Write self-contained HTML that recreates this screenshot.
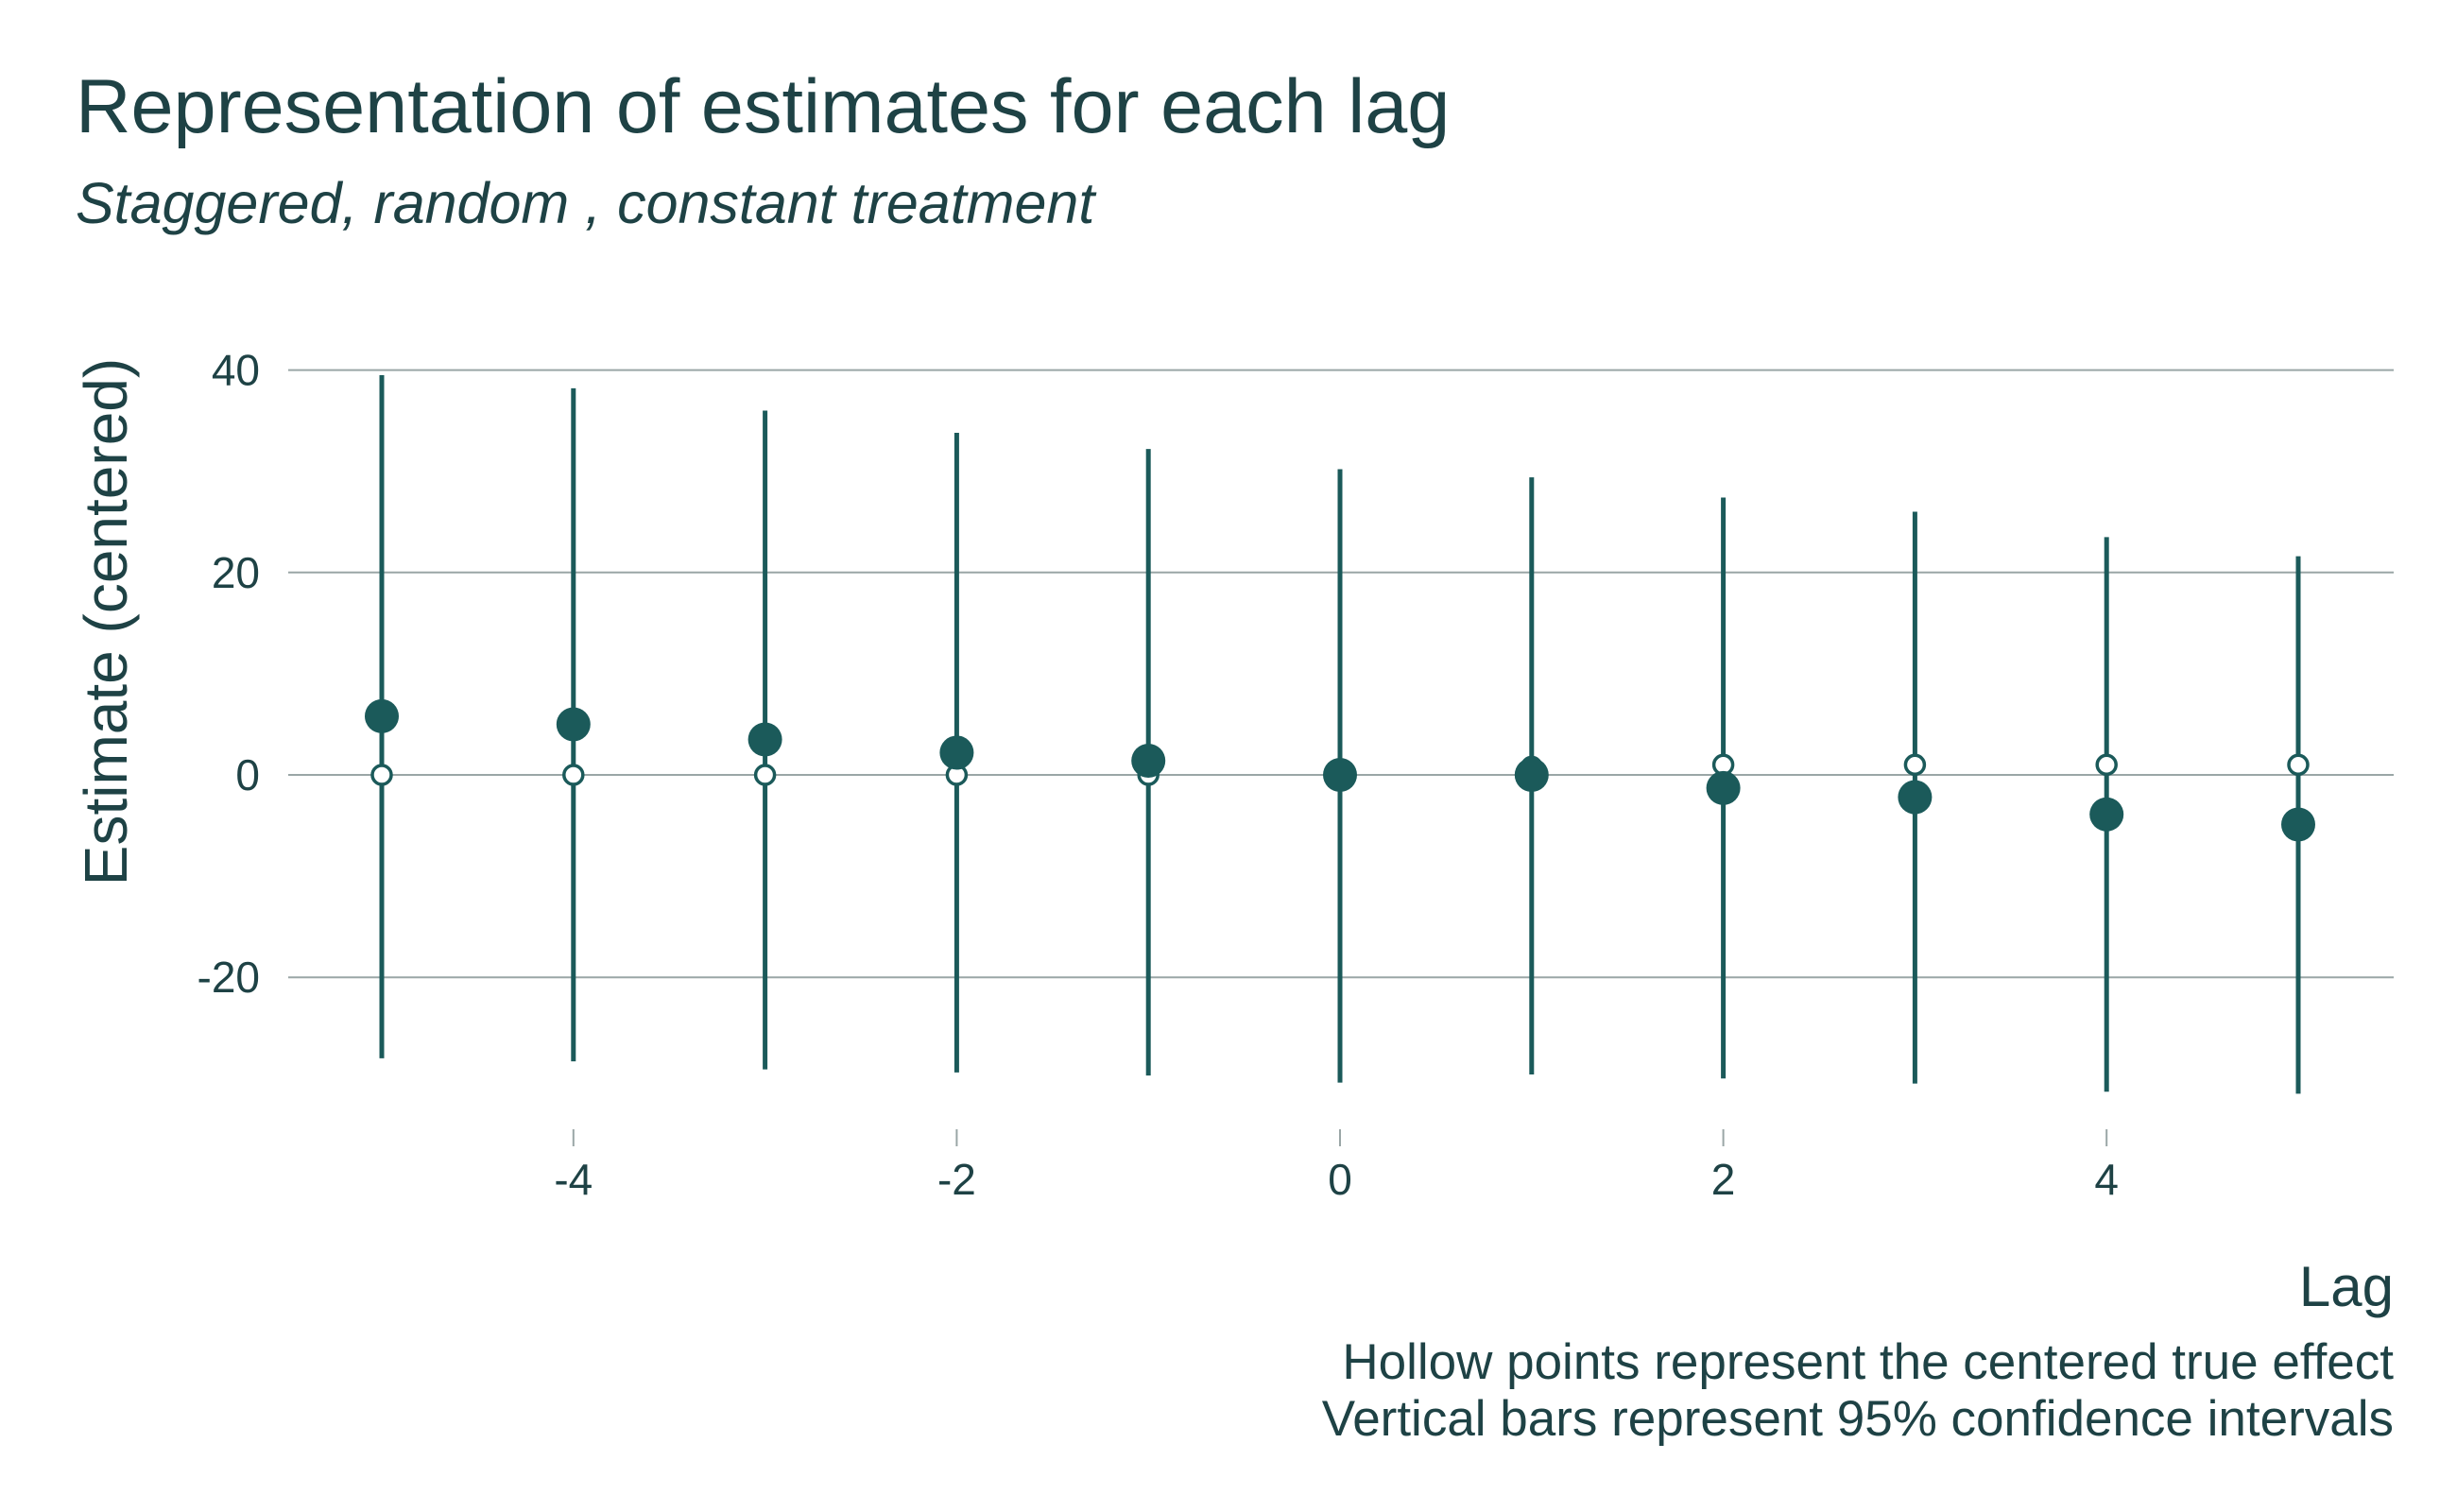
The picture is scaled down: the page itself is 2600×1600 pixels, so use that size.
<!DOCTYPE html>
<html><head><meta charset="utf-8"><style>
html,body{margin:0;padding:0;background:#fff;}
svg{display:block;font-family:"Liberation Sans",sans-serif;}
</style></head><body>
<svg id="chart" width="2600" height="1600" viewBox="0 0 2600 1600">
<text x="80" y="140" font-size="81" fill="#1e4245">Representation of estimates for each lag</text>
<text x="80" y="236" font-size="61" font-style="italic" fill="#1e4245">Staggered, random , constant treatment</text>
<g id="grid"></g>
<g id="marks"></g>
<text transform="translate(134,658) rotate(-90)" text-anchor="middle" font-size="64" fill="#1e4245">Estimate (centered)</text>
<text x="2533" y="1382" text-anchor="end" font-size="60" fill="#1e4245">Lag</text>
<text x="2533" y="1459" text-anchor="end" font-size="53" fill="#1e4245">Hollow points represent the centered true effect</text>
<text x="2533" y="1519" text-anchor="end" font-size="53" fill="#1e4245">Vertical bars represent 95% confidence intervals</text>
</svg>
<script>
const lags=[-5,-4,-3,-2,-1,0,1,2,3,4,5];
const estimates=[5.8,5.0,3.5,2.2,1.4,0,0,-1.3,-2.2,-3.9,-4.9];
const ciUpper=[39.5,38.2,36,33.8,32.2,30.2,29.4,27.4,26,23.5,21.6];
const ciLower=[-28,-28.3,-29.1,-29.4,-29.7,-30.4,-29.6,-30,-30.5,-31.3,-31.5];
const trueEffect=[0,0,0,0,0,0,0.8,1,1,1,1];
const yTicks=[-20,0,20,40];
const xTicks=[-4,-2,0,2,4];
const NS="http://www.w3.org/2000/svg";
const xs=v=>1418+v*202.8;
const ys=v=>820-v*10.71;
const grid=document.getElementById('grid'),marks=document.getElementById('marks');
function mk(tag,attrs,parent){const e=document.createElementNS(NS,tag);for(const k in attrs)e.setAttribute(k,attrs[k]);parent.appendChild(e);return e;}
yTicks.forEach(t=>{
 const l=mk('line',{x1:305,x2:2533,y1:ys(t),y2:ys(t),stroke:'#9aa6a6','stroke-width':2},grid);
 
 
 const tx=mk('text',{x:275,y:ys(t)+16,'text-anchor':'end','font-size':46,fill:'#1e4245'},grid);
 tx.textContent=t;
 
 
});
xTicks.forEach(t=>{
 const l=mk('line',{x1:xs(t),x2:xs(t),y1:1195,y2:1213,stroke:'#9aa6a6','stroke-width':2},grid);
 
 
 const tx=mk('text',{x:xs(t),y:1264,'text-anchor':'middle','font-size':46,fill:'#1e4245'},grid);
 tx.textContent=t;
 
 
});
lags.forEach((g,i)=>{
 const b=mk('line',{x1:xs(g),x2:xs(g),y1:ys(ciUpper[i]),y2:ys(ciLower[i]),stroke:'#1b5a5a','stroke-width':5},marks);
 
 
 const h=mk('circle',{cx:xs(g),cy:ys(trueEffect[i]),r:10,fill:'#fff',stroke:'#1b5a5a','stroke-width':3.5},marks);
 
 
 const p=mk('circle',{cx:xs(g),cy:ys(estimates[i]),r:18,fill:'#1b5a5a'},marks);
 
 
});
</script>
</body></html>
